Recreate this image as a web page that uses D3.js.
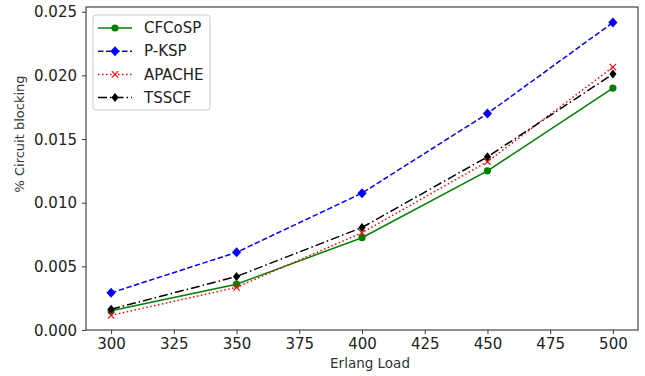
<!DOCTYPE html>
<html>
<head>
<meta charset="utf-8">
<script src="https://cdn.jsdelivr.net/npm/d3@7"></script>
<style>
  body { margin: 0; background: #fff; }
  text { font-family: "DejaVu Sans", sans-serif; }
</style>
</head>
<body>
<svg id="chart"></svg>
<script>
const loads = [300, 350, 400, 450, 500];
const cfcosp = [0.00152, 0.0036, 0.00725, 0.0125, 0.0190];
const pksp = [0.00292, 0.0061, 0.01075, 0.0170, 0.02415];
const apache = [0.00115, 0.00335, 0.00764, 0.01322, 0.02065];
const tsscf = [0.00163, 0.0042, 0.00805, 0.0136, 0.0201];
const xTicks = [300, 325, 350, 375, 400, 425, 450, 475, 500];
const yTicks = [0, 0.005, 0.01, 0.015, 0.02, 0.025];

const series = [
    {name: 'CFCoSP', values: cfcosp, color: 'green', dash: null, marker: 'circle'},
    {name: 'P-KSP', values: pksp, color: 'blue', dash: '5.5,2.5', marker: 'diamond'},
    {name: 'APACHE', values: apache, color: 'red', dash: '1.5,2.5', marker: 'x'},
    {name: 'TSSCF', values: tsscf, color: 'black', dash: '9,3,1.5,3', marker: 'thin'}
];

const width = 645, height = 376;
const margin = {top: 7, right: 7, bottom: 46, left: 86};

const svg = d3.select('#chart')
    .attr('width', width)
    .attr('height', height);

const x = d3.scaleLinear()
    .domain([290, 510])
    .range([margin.left, width - margin.right]);

const y = d3.scaleLinear()
    .domain([0, 0.02537])
    .range([height - margin.bottom, margin.top]);

// axes
svg.append('g')
    .attr('transform', `translate(0,${height - margin.bottom})`)
    .call(d3.axisBottom(x).tickValues(xTicks).tickSize(4).tickPadding(4).tickFormat(d3.format('d')))
    .call(g => g.select('.domain').remove())
    .call(g => g.selectAll('line').attr('stroke', '#333'))
    .call(g => g.selectAll('text').style('font-size', '15px').attr('fill', '#222'));

svg.append('g')
    .attr('transform', `translate(${margin.left},0)`)
    .call(d3.axisLeft(y).tickValues(yTicks).tickSize(4).tickPadding(5).tickFormat(d3.format('.3f')))
    .call(g => g.select('.domain').remove())
    .call(g => g.selectAll('line').attr('stroke', '#333'))
    .call(g => g.selectAll('text').style('font-size', '15px').attr('fill', '#222').attr('dy', '0.35em'));

// frame
svg.append('rect')
    .attr('x', margin.left)
    .attr('y', margin.top)
    .attr('width', width - margin.left - margin.right)
    .attr('height', height - margin.top - margin.bottom)
    .attr('fill', 'none')
    .attr('stroke', '#444')
    .attr('stroke-width', 1.2);

svg.append('text')
    .attr('x', 370)
    .attr('y', 368)
    .attr('text-anchor', 'middle')
    .style('font-size', '13.5px')
    .attr('fill', '#333')
    .text('Erlang Load');

svg.append('text')
    .attr('transform', 'translate(24,134) rotate(-90)')
    .attr('text-anchor', 'middle')
    .style('font-size', '13px')
    .attr('fill', '#333')
    .text('% Circuit blocking');

function drawMarker(g, type, color) {
    if (type === 'circle') {
        g.append('circle').attr('r', 3.6).attr('fill', color);
    } else if (type === 'diamond') {
        g.append('path').attr('d', 'M0,-5L4.6,0L0,5L-4.6,0Z').attr('fill', color);
    } else if (type === 'thin') {
        g.append('path').attr('d', 'M0,-4.5L3.6,0L0,4.5L-3.6,0Z').attr('fill', color);
    } else if (type === 'x') {
        g.append('path').attr('d', 'M-3.2,-3.2L3.2,3.2M-3.2,3.2L3.2,-3.2')
            .attr('stroke', color).attr('stroke-width', 1.1);
    }
}

const line = d3.line()
    .x(d => x(d[0]))
    .y(d => y(d[1]));

series.forEach(s => {
    const pts = loads.map((l, i) => [l, s.values[i]]);
    svg.append('path')
        .datum(pts)
        .attr('d', line)
        .attr('fill', 'none')
        .attr('stroke', s.color)
        .attr('stroke-width', 1.5)
        .attr('stroke-dasharray', s.dash);
    pts.forEach(p => {
        const g = svg.append('g').attr('transform', `translate(${x(p[0])},${y(p[1])})`);
        drawMarker(g, s.marker, s.color);
    });
});

// legend
const legend = svg.append('g').attr('transform', 'translate(93,15)');
legend.append('rect')
    .attr('width', 117)
    .attr('height', 95)
    .attr('rx', 3)
    .attr('fill', 'white')
    .attr('fill-opacity', 0.8)
    .attr('stroke', '#ccc');

series.forEach((s, i) => {
    const yy = 13 + i * 23.2;
    const row = legend.append('g').attr('transform', `translate(0,${yy})`);
    row.append('line')
        .attr('x1', 5).attr('x2', 39)
        .attr('stroke', s.color)
        .attr('stroke-width', 1.5)
        .attr('stroke-dasharray', s.dash);
    drawMarker(row.append('g').attr('transform', 'translate(22,0)'), s.marker, s.color);
    row.append('text')
        .attr('x', 51)
        .attr('dy', '0.35em')
        .style('font-size', '15px')
        .attr('fill', '#222')
        .text(s.name);
});
</script>
</body>
</html>
